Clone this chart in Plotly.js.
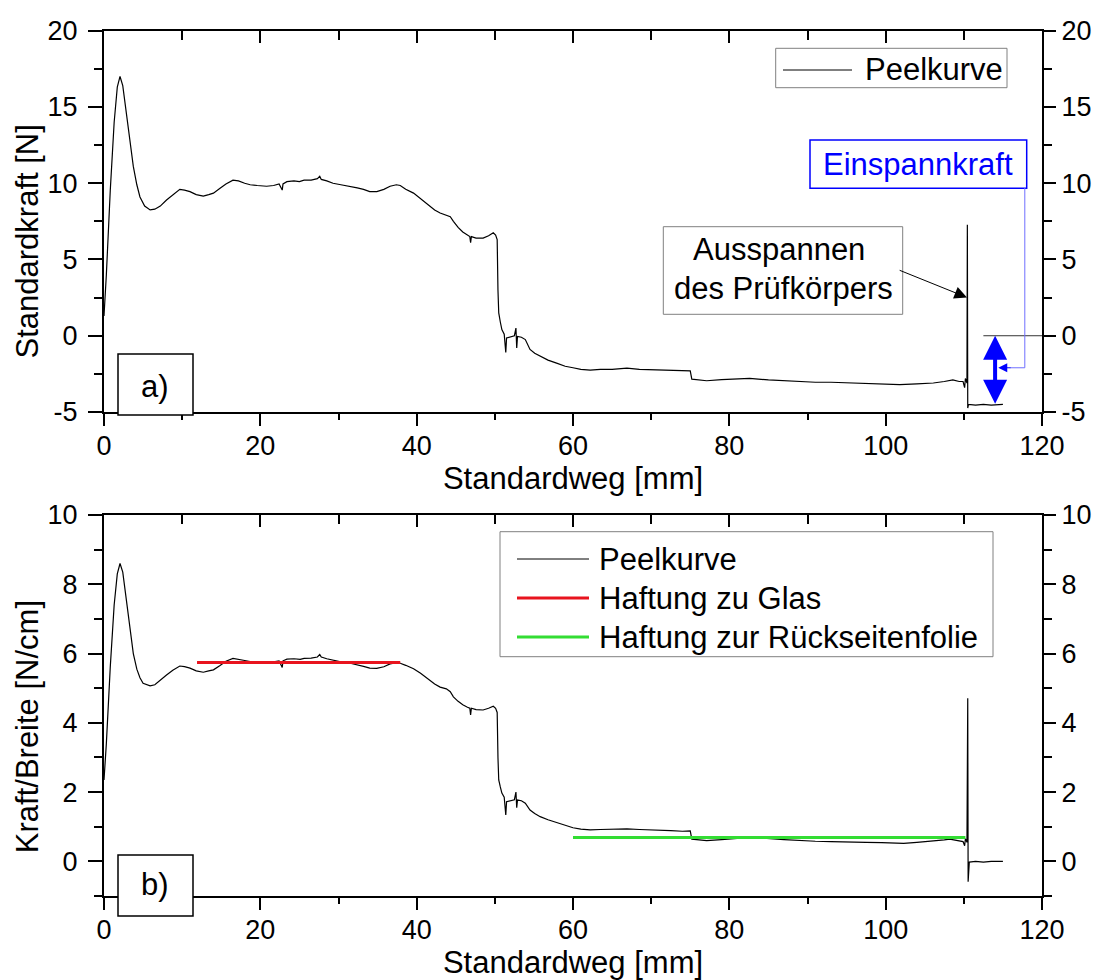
<!DOCTYPE html>
<html><head><meta charset="utf-8">
<script src="https://cdn.plot.ly/plotly-3.0.1.min.js"></script>
<style>html,body{margin:0;padding:0;background:#fff}#chart{width:1097px;height:980px}</style>
</head><body><div id="chart"></div>
<script>
// ---- data ----
const wegA = [0.0,0.3,0.8,1.3,1.7,2.05,2.4,2.9,3.4,3.75,4.2,4.6,5.2,5.9,6.5,7.2,8.0,8.8,9.7,10.3,11.0,11.8,12.7,13.4,14.0,14.8,15.6,16.5,17.2,18.0,18.7,19.6,20.8,21.7,22.4,22.8,22.9,23.4,24.3,25.0,25.6,26.5,27.3,27.6,27.8,28.5,29.3,30.3,31.5,32.4,33.2,34.0,34.9,35.8,36.6,37.4,37.9,38.6,39.6,40.5,41.2,41.7,42.3,43.0,43.8,44.3,44.7,45.3,45.9,46.5,46.8,46.9,47.0,47.6,48.5,49.2,49.8,50.1,50.3,50.4,50.5,50.7,50.9,51.2,51.4,51.5,52.0,52.5,52.7,52.8,52.9,53.4,53.9,54.5,55.1,55.8,56.8,57.9,59.0,60.0,61.0,62.2,63.5,65.0,66.9,68.5,70.7,72.5,74.0,75.0,75.2,76.2,77.1,79.0,81.4,82.6,85.0,87.0,89.0,91.0,93.0,95.4,97.5,99.5,101.8,104.0,106.1,107.5,108.6,109.4,109.9,110.1,110.2,110.4,110.45,110.5,110.6,111.5,112.5,113.5,114.5,115.0];
const kraftA = [1.3,4.0,9.5,14.0,16.3,17.0,16.4,14.3,12.2,11.1,9.9,9.1,8.5,8.25,8.3,8.5,8.9,9.25,9.6,9.55,9.45,9.25,9.15,9.25,9.35,9.65,9.95,10.2,10.15,10.0,9.9,9.85,9.8,9.85,9.95,9.55,9.95,10.1,10.15,10.1,10.2,10.2,10.3,10.45,10.25,10.15,10.0,9.9,9.8,9.7,9.6,9.45,9.45,9.6,9.8,9.9,9.85,9.6,9.35,9.0,8.7,8.5,8.25,8.05,7.9,7.8,7.5,7.1,6.8,6.6,6.5,6.1,6.5,6.4,6.4,6.55,6.75,6.6,6.3,3.0,1.5,0.9,0.4,0.1,-1.1,-0.15,-0.05,0.0,0.5,-0.8,-0.05,-0.1,-0.25,-0.9,-1.15,-1.35,-1.6,-1.8,-2.0,-2.1,-2.2,-2.25,-2.2,-2.2,-2.12,-2.2,-2.23,-2.25,-2.3,-2.3,-2.85,-2.9,-2.95,-2.88,-2.84,-2.8,-2.9,-2.95,-3.0,-3.05,-3.05,-3.1,-3.15,-3.18,-3.2,-3.15,-3.1,-3.0,-2.9,-3.0,-3.0,-3.4,-2.8,-3.1,7.28,-4.74,-4.5,-4.55,-4.5,-4.55,-4.5,-4.5];

const wegB = [0.0,0.3,0.8,1.3,1.7,2.05,2.4,2.9,3.4,3.75,4.2,4.6,5.0,5.9,6.5,7.2,8.0,8.8,9.7,10.3,11.0,11.8,12.7,13.4,14.0,14.8,15.6,16.5,17.2,18.0,18.7,19.6,20.8,21.7,22.4,22.8,22.9,23.4,24.3,25.1,25.6,26.5,27.3,27.6,27.8,28.5,29.3,30.3,31.5,32.4,33.2,34.0,34.9,35.8,36.6,37.4,37.9,38.6,39.6,40.5,41.2,41.7,42.3,43.0,43.8,44.3,44.7,45.3,45.9,46.5,46.8,46.9,47.0,47.6,48.5,49.2,49.8,50.1,50.3,50.4,50.5,50.7,50.9,51.2,51.4,51.5,52.0,52.5,52.7,52.8,52.9,53.4,53.9,54.5,55.1,55.8,56.8,57.9,59.0,60.0,61.0,62.2,63.5,65.0,66.9,68.5,70.7,72.5,74.0,75.0,75.2,76.2,77.1,79.0,81.4,82.6,84.8,87.0,89.0,91.0,93.0,94.5,97.5,99.5,102.3,104.0,106.1,107.5,108.2,109.4,109.9,110.1,110.2,110.4,110.5,110.55,110.7,111.5,112.5,113.5,114.5,115.0];
const kraftBreiteB = [2.35,3.4,5.6,7.4,8.3,8.6,8.35,7.5,6.65,6.0,5.55,5.3,5.14,5.07,5.1,5.24,5.38,5.52,5.64,5.62,5.58,5.5,5.46,5.5,5.53,5.65,5.78,5.86,5.84,5.8,5.77,5.75,5.74,5.76,5.79,5.6,5.79,5.84,5.85,5.83,5.86,5.87,5.9,5.97,5.9,5.85,5.8,5.76,5.72,5.68,5.63,5.58,5.57,5.62,5.7,5.74,5.72,5.66,5.56,5.43,5.3,5.22,5.12,5.03,4.98,4.9,4.75,4.62,4.52,4.45,4.42,4.23,4.42,4.38,4.37,4.42,4.48,4.42,4.3,3.0,2.35,2.15,1.97,1.85,1.34,1.72,1.76,1.78,2.0,1.55,1.77,1.75,1.68,1.48,1.38,1.29,1.2,1.12,1.04,0.97,0.93,0.91,0.92,0.93,0.94,0.92,0.91,0.89,0.87,0.88,0.64,0.61,0.6,0.63,0.67,0.66,0.66,0.63,0.6,0.58,0.57,0.57,0.55,0.54,0.52,0.55,0.58,0.62,0.64,0.6,0.57,0.45,0.65,0.55,4.71,-0.59,-0.02,0.0,-0.02,0.0,-0.01,0.0];

const glasX = [11.9, 37.9];   const glasY = [5.74, 5.74];
const folieX = [60.0, 110.2]; const folieY = [0.69, 0.69];

const xTickVals = [0,20,40,60,80,100,120];
const yTickValsA = [-5,0,5,10,15,20];
const yTickValsB = [0,2,4,6,8,10];

const legendA = ['Peelkurve'];
const legendB = ['Peelkurve','Haftung zu Glas','Haftung zur Rückseitenfolie'];

// ---- layout helpers ----
const W = 1097, H = 980;
const PX = x => x / W, PY = y => 1 - y / H;
const L = 104, R = 1042, T1 = 30.7, B1 = 412, T2 = 515, B2 = 896;
const FONT = 'Arial, "Liberation Sans", Helvetica, sans-serif';

function ax(extra) {
  return Object.assign({
    showgrid: false, zeroline: false, showline: true, linecolor: '#000', linewidth: 2,
    tickcolor: '#000', tickwidth: 2, fixedrange: true,
    tickfont: {family: FONT, size: 27, color: '#000'}
  }, extra);
}
function xax(anchor, side, extra) {
  return ax(Object.assign({
    domain: [PX(L), PX(R)], range: [0, 120], anchor: anchor, side: side,
    tickmode: 'array', tickvals: xTickVals, ticktext: xTickVals.map(String),
    ticks: side === 'top' ? 'inside' : 'outside', ticklen: 12,
    minor: {tickmode: 'linear', tick0: 0, dtick: 10, ticks: side === 'top' ? 'inside' : 'outside', ticklen: side === 'top' ? 9 : 6, tickwidth: 2, tickcolor: '#000'},
    showticklabels: side !== 'top', ticklabelstandoff: -3
  }, extra));
}
function yax(anchor, side, range, vals, minorStep, dom, extra) {
  return ax(Object.assign({
    domain: dom, range: range, anchor: anchor, side: side,
    tickmode: 'array', tickvals: vals, ticktext: vals.map(String),
    ticks: 'outside', ticklen: side === 'left' ? 14 : 12,
    minor: {tickmode: 'linear', tick0: 0, dtick: minorStep, ticks: 'outside', ticklen: 8, tickwidth: 2, tickcolor: '#000'},
    showticklabels: true, ticklabelstandoff: side === 'left' ? 5 : 0
  }, extra));
}

const domA = [PY(B1), PY(T1)], domB = [PY(B2), PY(T2)];

const traces = [
  {x: wegA, y: kraftA, xaxis: 'x', yaxis: 'y', type: 'scatter', mode: 'lines', name: legendA[0], line: {color: '#000', width: 1.2}, showlegend: false, hoverinfo: 'skip'},
  {x: wegB, y: kraftBreiteB, xaxis: 'x2', yaxis: 'y2', type: 'scatter', mode: 'lines', name: legendB[0], line: {color: '#000', width: 1.2}, showlegend: false, hoverinfo: 'skip'},
  {x: glasX, y: glasY, xaxis: 'x2', yaxis: 'y2', type: 'scatter', mode: 'lines', name: legendB[1], line: {color: '#e8141e', width: 3}, showlegend: false, hoverinfo: 'skip'},
  {x: folieX, y: folieY, xaxis: 'x2', yaxis: 'y2', type: 'scatter', mode: 'lines', name: legendB[2], line: {color: '#33dd33', width: 3}, showlegend: false, hoverinfo: 'skip'},
  {x: [], y: [], xaxis: 'x3', yaxis: 'y3', type: 'scatter', mode: 'lines', showlegend: false, hoverinfo: 'skip'},
  {x: [], y: [], xaxis: 'x4', yaxis: 'y4', type: 'scatter', mode: 'lines', showlegend: false, hoverinfo: 'skip'}
];

const titleFont = {family: FONT, size: 31, color: '#000'};
const shapes = [];
const annotations = [];

function box(x0, y0, x1, y1, color, width) {
  shapes.push({type: 'rect', xref: 'paper', yref: 'paper', x0: PX(x0), x1: PX(x1), y0: PY(y1), y1: PY(y0),
    line: {color: color, width: width}, fillcolor: 'rgba(255,255,255,1)', layer: 'above'});
}
function seg(x0, x1, y, color, width) {
  shapes.push({type: 'line', xref: 'paper', yref: 'paper', x0: PX(x0), x1: PX(x1), y0: PY(y), y1: PY(y),
    line: {color: color, width: width}, layer: 'above'});
}
function txt(text, x, y, xanchor, size, color, angle) {
  annotations.push({text: text, xref: 'paper', yref: 'paper', x: PX(x), y: PY(y), xanchor: xanchor, yanchor: 'middle',
    showarrow: false, textangle: angle || 0, font: {family: FONT, size: size, color: color || '#000'}});
}

// y titles
txt('Standardkraft [N]', 27, 241.5, 'center', 31, '#000', -90);
txt('Kraft/Breite [N/cm]', 27.5, 726.7, 'center', 31, '#000', -90);

// legend a
box(775.7, 48.3, 1007, 87.7, '#808080', 1);
seg(783, 852, 70, '#000', 1);
txt(legendA[0], 863, 70, 'left', 31);

// legend b
box(500, 531.7, 993, 656.7, '#808080', 1);
seg(517, 589, 559, '#000', 1);
seg(517, 589, 598, '#e8141e', 3);
seg(517, 589, 637, '#33dd33', 3);
txt(legendB[0], 597, 559, 'left', 31);
txt(legendB[1], 597, 598, 'left', 31);
txt(legendB[2], 597, 637, 'left', 31);

// panel labels
box(118, 354, 193, 415, '#000', 1.5);
txt('a)', 155, 386, 'center', 31);
box(118, 855, 193, 916, '#000', 1.5);
txt('b)', 155, 884, 'center', 31);

// Einspannkraft box
box(810, 140, 1026.7, 188.3, '#0000ff', 1.5);
txt('Einspannkraft', 918, 164, 'center', 31, '#0000ff');

// Ausspannen box
box(663.3, 226.7, 902.7, 314.3, '#808080', 1);
txt('Ausspannen', 779, 250, 'center', 31);
txt('des Prüfkörpers', 783, 288, 'center', 31);

// data-referenced annotation lines (top panel)
shapes.push({type: 'line', xref: 'x', yref: 'y', x0: 112.5, x1: 120, y0: 0, y1: 0, line: {color: '#333', width: 1}, layer: 'above'});
shapes.push({type: 'path', xref: 'x', yref: 'y', path: 'M117.8,9.69 L117.8,-2.1 L116.0,-2.1', line: {color: '#7070ff', width: 1}, layer: 'above'});
annotations.push({xref: 'x', yref: 'y', axref: 'x', ayref: 'y', x: 114.4, y: -2.1, ax: 116.2, ay: -2.1, text: '', showarrow: true,
  arrowhead: 2, arrowsize: 1.8, arrowwidth: 1, arrowcolor: '#0000ff'});
annotations.push({xref: 'x', yref: 'y', axref: 'x', ayref: 'y', x: 114.0, y: 0.0, ax: 114.0, ay: -4.55, text: '', showarrow: true,
  arrowside: 'end+start', arrowhead: 2, startarrowhead: 2, arrowsize: 1.2, startarrowsize: 1.2, arrowwidth: 4, arrowcolor: '#0000ff'});
annotations.push({xref: 'x', yref: 'y', axref: 'x', ayref: 'y', x: 110.4, y: 2.51, ax: 101.6, ay: 4.33, text: '', showarrow: true,
  arrowhead: 2, arrowsize: 2.5, arrowwidth: 1, arrowcolor: '#000'});

const layout = {
  width: W, height: H, margin: {l: 0, r: 0, t: 0, b: 0}, paper_bgcolor: '#fff', plot_bgcolor: 'rgba(0,0,0,0)',
  showlegend: false, font: {family: FONT, color: '#000'},
  xaxis: xax('y', 'bottom', {title: {text: 'Standardweg [mm]', font: titleFont, standoff: 6}}),
  xaxis2: xax('y2', 'bottom', {title: {text: 'Standardweg [mm]', font: titleFont, standoff: 6}}),
  xaxis3: xax('y', 'top', {overlaying: 'x'}),
  xaxis4: xax('y2', 'top', {overlaying: 'x2'}),
  yaxis: yax('x', 'left', [-5, 20], yTickValsA, 2.5, domA),
  yaxis2: yax('x2', 'left', [-1, 10], yTickValsB, 1, domB),
  yaxis3: yax('x', 'right', [-5, 20], yTickValsA, 2.5, domA, {overlaying: 'y'}),
  yaxis4: yax('x2', 'right', [-1, 10], yTickValsB, 1, domB, {overlaying: 'y2'}),
  shapes: shapes, annotations: annotations
};

Plotly.newPlot('chart', traces, layout, {staticPlot: true, displayModeBar: false});
</script>
</body></html>
